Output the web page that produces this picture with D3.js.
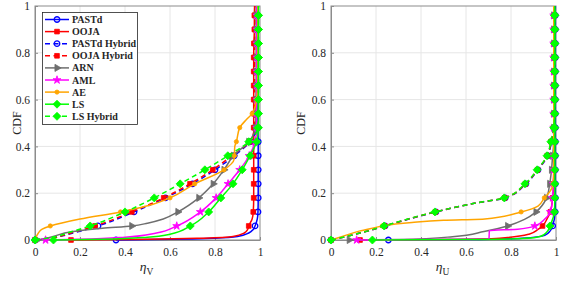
<!DOCTYPE html>
<html>
<head>
<meta charset="utf-8">
<script src="https://cdn.jsdelivr.net/npm/d3@7"></script>
<style>
  body { margin: 0; background: #fff; }
  svg { display: block; }
  text { font-family: "Liberation Serif", "Times New Roman", serif; fill: #262626; }
</style>
</head>
<body>
<svg id="chart" width="565" height="281"></svg>
<script>
// CDF levels where the markers sit (every 0.06)
const cdfLevels = [0, 0.06, 0.12, 0.18, 0.24, 0.30, 0.36, 0.42, 0.48, 0.54, 0.60, 0.66, 0.72, 0.78, 0.84, 0.90, 0.96];
const tickValues = [0, 0.2, 0.4, 0.6, 0.8, 1];
const tickLabels = ["0", "0.2", "0.4", "0.6", "0.8", "1"];
const seriesNames = ["PASTd", "OOJA", "PASTd Hybrid", "OOJA Hybrid", "ARN", "AML", "AE", "LS", "LS Hybrid"];

// left panel (eta_V): x value at each cdf level, plus extra bend points [x, cdf]
const pastdV = [0.36, 0.978, 0.991, 0.992, 0.992, 0.992, 0.992, 0.992, 0.991, 0.991, 0.99, 0.99, 0.99, 0.99, 0.99, 0.99, 0.99];
const pastdVBends = [[0.6, 0.003], [0.8, 0.008], [0.9, 0.015], [0.95, 0.03], [0.97, 0.045], [0.988, 0.09], [0.99, 1]];
const oojaV = [0.16, 0.95, 0.97, 0.972, 0.972, 0.972, 0.972, 0.972, 0.972, 0.972, 0.972, 0.972, 0.972, 0.972, 0.973, 0.975, 0.975];
const oojaVBends = [[0.5, 0.003], [0.75, 0.008], [0.88, 0.015], [0.93, 0.03], [0.945, 0.045], [0.965, 0.09], [0.976, 1]];
const pastdHybV = [0, 0.28, 0.44, 0.58, 0.70, 0.80, 0.885, 0.955, 0.985, 0.987, 0.988, 0.988, 0.988, 0.988, 0.988, 0.988, 0.988];
const pastdHybVBends = [[0.08, 0.01], [0.17, 0.03], [0.988, 1]];
const oojaHybV = [0, 0.267, 0.43, 0.572, 0.689, 0.79, 0.875, 0.953, 0.975, 0.976, 0.976, 0.976, 0.976, 0.976, 0.976, 0.977, 0.977];
const oojaHybVBends = [[0.08, 0.01], [0.16, 0.03], [0.977, 1]];
const arnV = [0.01, 0.43, 0.635, 0.728, 0.792, 0.84, 0.882, 0.95, 0.98, 0.982, 0.982, 0.983, 0.983, 0.983, 0.983, 0.983, 0.983];
const arnVBends = [[0.06, 0.01], [0.17, 0.036], [0.3, 0.05], [0.5, 0.072], [0.57, 0.09], [0.983, 1]];
const amlV = [0.047, 0.63, 0.735, 0.805, 0.858, 0.91, 0.952, 0.978, 0.985, 0.985, 0.986, 0.986, 0.986, 0.986, 0.986, 0.986, 0.986];
const amlVBends = [[0.2, 0.003], [0.4, 0.012], [0.54, 0.03], [0.986, 1]];
const aeV = [0, 0.068, 0.38, 0.60, 0.71, 0.84, 0.886, 0.895, 0.91, 0.965, 0.985, 0.99, 0.99, 0.99, 0.99, 0.99, 0.99];
const aeVBends = [[0.015, 0.03], [0.03, 0.045], [0.2, 0.09], [0.5, 0.146], [0.885, 0.345], [0.888, 0.40], [0.94, 0.515], [0.99, 1]];
const lsV = [0.082, 0.69, 0.772, 0.826, 0.88, 0.921, 0.956, 0.985, 0.993, 0.993, 0.993, 0.993, 0.993, 0.993, 0.993, 0.993, 0.993];
const lsVBends = [[0.3, 0.003], [0.5, 0.012], [0.6, 0.025], [0.993, 1]];
const lsHybV = [0, 0.245, 0.40, 0.53, 0.645, 0.755, 0.857, 0.95, 0.99, 0.992, 0.993, 0.993, 0.993, 0.993, 0.993, 0.993, 0.993];
const lsHybVBends = [[0.08, 0.012], [0.16, 0.035], [0.993, 1]];

// right panel (eta_U)
const pastdU = [0.255, 0.985, 0.996, 0.997, 0.997, 0.997, 0.997, 0.997, 0.997, 0.997, 0.997, 0.997, 0.997, 0.997, 0.997, 0.997, 0.997];
const pastdUBends = [[0.6, 0.002], [0.85, 0.008], [0.95, 0.02], [0.975, 0.04], [0.997, 1]];
const oojaU = [0.129, 0.94, 0.975, 0.985, 0.99, 0.99, 0.99, 0.99, 0.99, 0.99, 0.99, 0.99, 0.99, 0.99, 0.99, 0.99, 0.99];
const oojaUBends = [[0.5, 0.002], [0.75, 0.008], [0.88, 0.025], [0.92, 0.045], [0.96, 0.09], [0.99, 1]];
const pastdHybU = [0, 0.24, 0.466, 0.774, 0.866, 0.92, 0.963, 0.98, 0.99, 0.993, 0.993, 0.993, 0.993, 0.993, 0.993, 0.993, 0.993];
const pastdHybUBends = [[0.08, 0.018], [0.154, 0.036], [0.637, 0.157], [0.994, 1]];
const oojaHybU = [0, 0.238, 0.464, 0.772, 0.864, 0.918, 0.961, 0.978, 0.99, 0.993, 0.993, 0.993, 0.993, 0.993, 0.993, 0.993, 0.993];
const oojaHybUBends = [[0.08, 0.018], [0.154, 0.036], [0.637, 0.157], [0.994, 1]];
const arnU = [0.081, 0.785, 0.911, 0.958, 0.972, 0.98, 0.985, 0.99, 0.99, 0.99, 0.99, 0.99, 0.99, 0.99, 0.99, 0.99, 0.99];
const arnUBends = [[0.3, 0.002], [0.54, 0.014], [0.68, 0.036], [0.86, 0.088], [0.99, 1]];
const amlU = [0.114, 0.906, 0.975, 0.985, 0.988, 0.99, 0.99, 0.99, 0.99, 0.99, 0.99, 0.99, 0.99, 0.99, 0.99, 0.99, 0.99];
const amlUBends = [[0.5, 0.002], [0.702, 0.004], [0.704, 0.04], [0.83, 0.046], [0.95, 0.09], [0.99, 1]];
const aeU = [0, 0.228, 0.845, 0.948, 0.987, 0.99, 0.99, 0.99, 0.99, 0.99, 0.99, 0.99, 0.99, 0.99, 0.99, 0.99, 0.99];
const aeUBends = [[0.05, 0.015], [0.125, 0.038], [0.2, 0.054], [0.36, 0.075], [0.5, 0.084], [0.684, 0.09], [0.92, 0.145], [0.975, 0.21], [0.99, 1]];
const lsU = [0.184, 0.973, 0.993, 0.995, 0.995, 0.995, 0.995, 0.995, 0.995, 0.995, 0.995, 0.995, 0.995, 0.995, 0.995, 0.995, 0.995];
const lsUBends = [[0.6, 0.002], [0.85, 0.006], [0.93, 0.015], [0.96, 0.035], [0.995, 1]];
const lsHybU = [0, 0.236, 0.462, 0.77, 0.862, 0.916, 0.96, 0.977, 0.99, 0.993, 0.994, 0.994, 0.994, 0.994, 0.994, 0.994, 0.994];
const lsHybUBends = [[0.08, 0.018], [0.154, 0.036], [0.637, 0.157], [0.994, 1]];

const leftData = [
  [pastdV, pastdVBends], [oojaV, oojaVBends], [pastdHybV, pastdHybVBends], [oojaHybV, oojaHybVBends],
  [arnV, arnVBends], [amlV, amlVBends], [aeV, aeVBends], [lsV, lsVBends], [lsHybV, lsHybVBends],
];
const rightData = [
  [pastdU, pastdUBends], [oojaU, oojaUBends], [pastdHybU, pastdHybUBends], [oojaHybU, oojaHybUBends],
  [arnU, arnUBends], [amlU, amlUBends], [aeU, aeUBends], [lsU, lsUBends], [lsHybU, lsHybUBends],
];

const diamond = {
  draw(context, size) {
    const r = Math.sqrt(size / 2);
    context.moveTo(0, -r);
    context.lineTo(r, 0);
    context.lineTo(0, r);
    context.lineTo(-r, 0);
    context.closePath();
  },
};

const styles = [
  { color: "#0000ff", dash: null, symbol: d3.symbolCircle, size: 24, fill: false },
  { color: "#ff0000", dash: null, symbol: d3.symbolSquare, size: 22, fill: true },
  { color: "#0000ff", dash: "5,3.5", symbol: d3.symbolCircle, size: 24, fill: false },
  { color: "#ff0000", dash: "5,3.5", symbol: d3.symbolSquare, size: 22, fill: true },
  { color: "#6e6e6e", dash: null, symbol: d3.symbolTriangle, size: 22, fill: true, rotate: 90 },
  { color: "#ff00ff", dash: null, symbol: d3.symbolStar, size: 20, fill: true },
  { color: "#ffa500", dash: null, symbol: d3.symbolCircle, size: 14, fill: true },
  { color: "#00ff00", dash: null, symbol: diamond, size: 32, fill: true },
  { color: "#00ff00", dash: "5,3.5", symbol: diamond, size: 32, fill: true },
];

const svg = d3.select("#chart");
const plotTop = 6;
const plotBottom = 240;

function buildSeries(xs, bends) {
  const markers = cdfLevels.map((y, i) => [xs[i], y]);
  const points = markers.concat(bends).sort((a, b) => a[1] - b[1] || a[0] - b[0]);
  return { markers, points };
}

function drawMarker(g, s, cx, cy) {
  g.append("path")
    .attr("d", d3.symbol(s.symbol, s.size)())
    .attr("transform", `translate(${cx},${cy})` + (s.rotate ? ` rotate(${s.rotate})` : ""))
    .attr("fill", s.fill ? s.color : "none")
    .attr("stroke", s.color)
    .attr("stroke-width", s.fill ? 0.8 : 1.3);
}

function drawPanel(left, right, data, sub, cdfX) {
  const x = d3.scaleLinear().domain([0, 1]).range([left, right]);
  const y = d3.scaleLinear().domain([0, 1]).range([plotBottom, plotTop]);
  const g = svg.append("g");

  // grid
  g.append("g").selectAll("line").data(tickValues.slice(1, -1)).join("line")
    .attr("x1", (d) => x(d)).attr("x2", (d) => x(d))
    .attr("y1", plotTop).attr("y2", plotBottom)
    .attr("stroke", "#e6e6e6").attr("stroke-width", 1);
  g.append("g").selectAll("line").data(tickValues.slice(1, -1)).join("line")
    .attr("y1", (d) => y(d)).attr("y2", (d) => y(d))
    .attr("x1", left).attr("x2", right)
    .attr("stroke", "#e6e6e6").attr("stroke-width", 1);

  // box
  g.append("rect")
    .attr("x", left).attr("y", plotTop)
    .attr("width", right - left).attr("height", plotBottom - plotTop)
    .attr("fill", "none").attr("stroke", "#8c8c8c").attr("stroke-width", 1);

  const xAxis = g.append("g")
    .attr("transform", `translate(0,${plotBottom})`)
    .call(d3.axisBottom(x).tickValues(tickValues).tickFormat((d, i) => tickLabels[i])
      .tickSizeInner(-3).tickSizeOuter(0).tickPadding(7.5));
  const yAxis = g.append("g")
    .attr("transform", `translate(${left},0)`)
    .call(d3.axisLeft(y).tickValues(tickValues).tickFormat((d, i) => tickLabels[i])
      .tickSizeInner(-3).tickSizeOuter(0).tickPadding(5));
  [xAxis, yAxis].forEach((ax) => {
    ax.select(".domain").attr("stroke", "#8c8c8c");
    ax.selectAll(".tick line").attr("stroke", "#8c8c8c");
    ax.selectAll(".tick text")
      .attr("font-family", "Liberation Serif, Times New Roman, serif")
      .attr("font-size", 11.5).attr("fill", "#262626");
  });

  const line = d3.line().x((d) => x(d[0])).y((d) => y(d[1])).curve(d3.curveMonotoneY);

  data.forEach(([xs, bends], i) => {
    const s = styles[i];
    const { markers, points } = buildSeries(xs, bends);
    g.append("path")
      .attr("d", line(points))
      .attr("fill", "none")
      .attr("stroke", s.color)
      .attr("stroke-width", 1.5)
      .attr("stroke-dasharray", s.dash);
    markers.forEach((m) => drawMarker(g, s, x(m[0]), y(m[1])));
  });

  // x label
  const lab = g.append("text")
    .attr("x", (left + right) / 2 - 1).attr("y", 271)
    .attr("text-anchor", "middle").attr("font-size", 13.5);
  lab.append("tspan").attr("font-style", "italic").text("η");
  lab.append("tspan").attr("dy", 3.5).attr("font-size", 9.5).text(sub);

  g.append("text")
    .attr("transform", `translate(${cdfX},${(plotTop + plotBottom) / 2}) rotate(-90)`)
    .attr("text-anchor", "middle").attr("font-size", 12)
    .text("CDF");
}

drawPanel(35, 260, leftData, "V", 20.5);
drawPanel(331, 556, rightData, "U", 305);

// legend
const legend = svg.append("g");
legend.append("rect")
  .attr("x", 42.5).attr("y", 12.5).attr("width", 95).attr("height", 112)
  .attr("fill", "#fff").attr("stroke", "#262626").attr("stroke-width", 0.8);
seriesNames.forEach((name, i) => {
  const s = styles[i];
  const cy = 19.5 + i * 12.1;
  legend.append("line")
    .attr("x1", 45).attr("x2", 69).attr("y1", cy).attr("y2", cy)
    .attr("stroke", s.color).attr("stroke-width", 1.5)
    .attr("stroke-dasharray", s.dash);
  drawMarker(legend, s, 57, cy);
  legend.append("text")
    .attr("x", 72).attr("y", cy + 3.5)
    .attr("font-size", 10).attr("font-weight", "bold").attr("fill", "#000")
    .text(name);
});
</script>
</body>
</html>
